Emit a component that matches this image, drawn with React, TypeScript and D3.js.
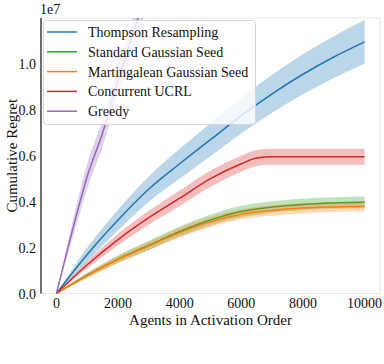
import { useRef, useEffect } from "react";
import * as d3 from "d3";

// values in units of 1e7
const AGENTS = [0, 1000, 2000, 3000, 4000, 5000, 6000, 7000, 8000, 9000, 10000];
const THOMPSON = [0, 0.17, 0.32, 0.455, 0.565, 0.67, 0.775, 0.87, 0.955, 1.03, 1.096];
const THOMPSON_ERR = [0, 0.03, 0.045, 0.055, 0.065, 0.072, 0.078, 0.083, 0.087, 0.091, 0.095];
const STANDARD = [0, 0.08, 0.15, 0.21, 0.27, 0.32, 0.357, 0.377, 0.388, 0.394, 0.397];
const STANDARD_ERR = [0, 0.01, 0.016, 0.02, 0.022, 0.024, 0.025, 0.025, 0.025, 0.025, 0.025];
const MARTINGALE = [0, 0.078, 0.148, 0.207, 0.265, 0.312, 0.345, 0.362, 0.372, 0.377, 0.38];
const MARTINGALE_ERR = [0, 0.01, 0.016, 0.019, 0.021, 0.022, 0.022, 0.022, 0.022, 0.022, 0.022];
const UCRL_AGENTS = [0, 1000, 2000, 3000, 4000, 5000, 6000, 6500, 7000, 8000, 9000, 10000];
const UCRL = [0, 0.125, 0.235, 0.33, 0.415, 0.5, 0.565, 0.59, 0.596, 0.596, 0.596, 0.596];
const UCRL_ERR = [0, 0.015, 0.025, 0.03, 0.034, 0.035, 0.035, 0.035, 0.035, 0.035, 0.035, 0.035];
const GREEDY_AGENTS = [0, 500, 1000, 1500, 2000, 2500, 3000];
const GREEDY = [0, 0.265, 0.51, 0.7, 0.93, 1.14, 1.35];
const GREEDY_ERR = [0, 0.035, 0.055, 0.06, 0.065, 0.07, 0.075];

const X_TICKS = [0, 2000, 4000, 6000, 8000, 10000];
const Y_TICKS = [0, 0.2, 0.4, 0.6, 0.8, 1.0];

const SERIES = [
  { name: "Thompson Resampling", color: "#1f77b4", x: AGENTS, y: THOMPSON, e: THOMPSON_ERR },
  { name: "Standard Gaussian Seed", color: "#2ca02c", x: AGENTS, y: STANDARD, e: STANDARD_ERR },
  { name: "Martingalean Gaussian Seed", color: "#ff7f0e", x: AGENTS, y: MARTINGALE, e: MARTINGALE_ERR },
  { name: "Concurrent UCRL", color: "#d62728", x: UCRL_AGENTS, y: UCRL, e: UCRL_ERR },
  { name: "Greedy", color: "#9467bd", x: GREEDY_AGENTS, y: GREEDY, e: GREEDY_ERR },
];

const FONT = '"Liberation Serif", "Times New Roman", Times, serif';

export default function App() {
  const svgRef = useRef<SVGSVGElement>(null);

  useEffect(() => {
    const svg = d3.select(svgRef.current);
    svg.selectAll("*").remove();

    const left = 41, right = 380, top = 18, bottom = 293.5;
    const x = d3.scaleLinear().domain([-500, 10500]).range([left, right]);
    const y = d3.scaleLinear().domain([0, 1.2]).range([bottom, top]);

    const txt = (sel: any, size: number) =>
      sel.style("font-family", FONT).style("font-size", size + "px").attr("fill", "#111");

    svg.append("defs").append("clipPath").attr("id", "plotclip")
      .append("rect").attr("x", left).attr("y", top).attr("width", right - left).attr("height", bottom - top);

    // frame
    svg.append("rect")
      .attr("x", left).attr("y", top).attr("width", right - left).attr("height", bottom - top)
      .attr("fill", "none").attr("stroke", "#e6e6e6").attr("stroke-width", 1);

    const plot = svg.append("g").attr("clip-path", "url(#plotclip)");

    SERIES.forEach((s) => {
      const pts = s.x.map((a, i) => ({ a, m: s.y[i], e: s.e[i] }));
      const area = d3.area<any>()
        .x((d) => x(d.a)).y0((d) => y(d.m - d.e)).y1((d) => y(d.m + d.e))
        .curve(d3.curveMonotoneX);
      const line = d3.line<any>().x((d) => x(d.a)).y((d) => y(d.m)).curve(d3.curveMonotoneX);
      plot.append("path").attr("d", area(pts)).attr("fill", s.color).attr("fill-opacity", 0.3);
      plot.append("path").attr("d", line(pts)).attr("fill", "none")
        .attr("stroke", s.color).attr("stroke-width", 1.5);
    });

    // left spine
    svg.append("line").attr("x1", left).attr("x2", left).attr("y1", top).attr("y2", bottom)
      .attr("stroke", "#000").attr("stroke-width", 1.1);

    // ticks
    X_TICKS.forEach((t) => {
      txt(svg.append("text").attr("x", x(t)).attr("y", 308).attr("text-anchor", "middle"), 14).text(String(t));
    });
    Y_TICKS.forEach((t) => {
      txt(svg.append("text").attr("x", 36).attr("y", y(t) + 5).attr("text-anchor", "end"), 14).text(t.toFixed(1));
    });
    txt(svg.append("text").attr("x", 40).attr("y", 13.5), 14).text("1e7");

    txt(svg.append("text").attr("x", (left + right) / 2).attr("y", 325).attr("text-anchor", "middle"), 15)
      .text("Agents in Activation Order");
    txt(svg.append("text").attr("transform", `translate(17,${(top + bottom) / 2}) rotate(-90)`)
      .attr("text-anchor", "middle"), 15).text("Cumulative Regret");

    // legend
    const lg = svg.append("g");
    lg.append("rect").attr("x", 43.5).attr("y", 20.5).attr("width", 212).attr("height", 104).attr("rx", 3)
      .attr("fill", "#fff").attr("fill-opacity", 0.8).attr("stroke", "#d6d6d6").attr("stroke-width", 1);
    SERIES.forEach((s, i) => {
      const cy = 32 + i * 19.8;
      lg.append("line").attr("x1", 47).attr("x2", 77).attr("y1", cy).attr("y2", cy)
        .attr("stroke", s.color).attr("stroke-width", 1.5);
      txt(lg.append("text").attr("x", 88).attr("y", cy + 5), 14).text(s.name);
    });
  }, []);

  return (
    <svg ref={svgRef} width={384} height={364}
      style={{ position: "absolute", left: 0, top: 0, background: "#fff" }} />
  );
}
